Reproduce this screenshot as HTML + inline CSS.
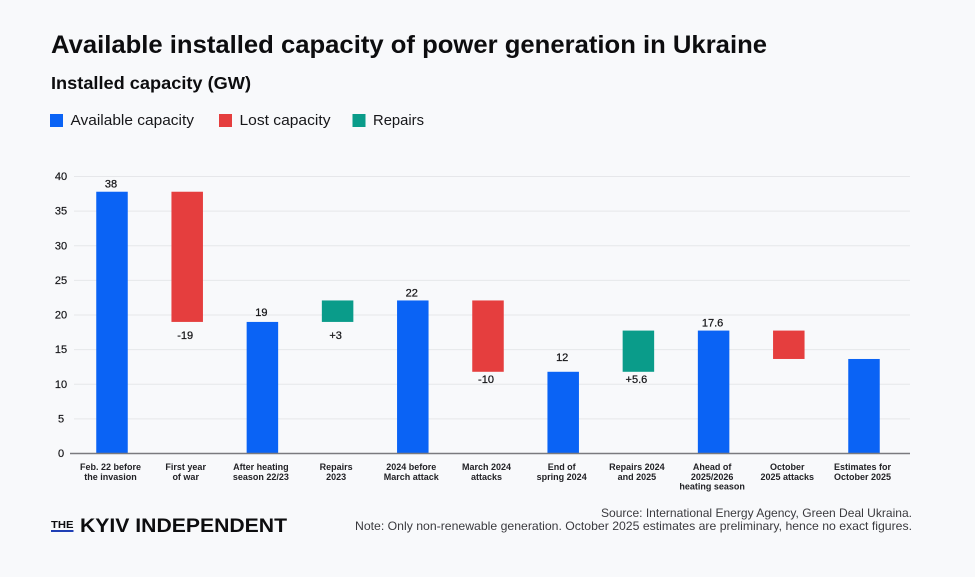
<!DOCTYPE html>
<html lang="en">
<head>
<meta charset="utf-8">
<title>Available installed capacity of power generation in Ukraine</title>
<style>
html,body{margin:0;padding:0;background:#f8f9fb;}
body{width:975px;height:577px;overflow:hidden;}
svg{display:block;font-family:"Liberation Sans",sans-serif;}
</style>
</head>
<body>
<svg id="chart" xmlns="http://www.w3.org/2000/svg" width="975" height="577" viewBox="0 0 975 577">
  <rect width="975" height="577" fill="#f8f9fb"/>
  <text x="51" y="53" font-size="25" font-weight="700" fill="#0d0d0f" textLength="716" lengthAdjust="spacingAndGlyphs">Available installed capacity of power generation in Ukraine</text>
  <text x="51" y="89" font-size="17.5" font-weight="700" fill="#0d0d0f" textLength="200" lengthAdjust="spacingAndGlyphs">Installed capacity (GW)</text>

  <g>
    <rect x="50" y="114" width="13" height="13" fill="#0a63f5"/>
    <text x="70.5" y="125" font-size="14.5" fill="#17171a" textLength="123.5" lengthAdjust="spacingAndGlyphs">Available capacity</text>
    <rect x="219" y="114" width="13" height="13" fill="#e53e3e"/>
    <text x="239.5" y="125" font-size="14.5" fill="#17171a" textLength="91" lengthAdjust="spacingAndGlyphs">Lost capacity</text>
    <rect x="352.500" y="114" width="13" height="13" fill="#0a9c8a"/>
    <text x="373" y="125" font-size="14.5" fill="#17171a" textLength="51" lengthAdjust="spacingAndGlyphs">Repairs</text>
  </g>

  <g id="grid"></g>
  <g id="yticks"></g>
  <g id="bars"></g>
  <g id="values"></g>
  <g id="xlabels"></g>
  <line id="baseline" x1="70" x2="910" stroke="#7a7a7e" stroke-width="1.6"/>

  <g>
    <text x="51" y="528" font-size="10.5" font-weight="700" fill="#0d0d0f" textLength="22.5" lengthAdjust="spacingAndGlyphs">THE</text>
    <rect x="51" y="530" width="22.500" height="2" fill="#1f3fb5"/>
    <text x="80" y="532" font-size="19" font-weight="700" fill="#0d0d0f" textLength="207" lengthAdjust="spacingAndGlyphs">KYIV INDEPENDENT</text>
  </g>

  <text x="912" y="517" text-anchor="end" font-size="12" fill="#3a3a3e" textLength="311" lengthAdjust="spacingAndGlyphs">Source: International Energy Agency, Green Deal Ukraina.</text>
  <text x="912" y="530" text-anchor="end" font-size="12" fill="#3a3a3e" textLength="557" lengthAdjust="spacingAndGlyphs">Note: Only non-renewable generation. October 2025 estimates are preliminary, hence no exact figures.</text>
</svg>

<script>
const categories = [
  ["Feb. 22 before", "the invasion"],
  ["First year", "of war"],
  ["After heating", "season 22/23"],
  ["Repairs", "2023"],
  ["2024 before", "March attack"],
  ["March 2024", "attacks"],
  ["End of", "spring 2024"],
  ["Repairs 2024", "and 2025"],
  ["Ahead of", "2025/2026", "heating season"],
  ["October", "2025 attacks"],
  ["Estimates for", "October 2025"]
];
const barStart = [0, 19, 0, 19, 0, 11.8, 0, 11.8, 0, 13.65, 0];
const barEnd = [37.8, 37.8, 19, 22.1, 22.1, 22.1, 11.8, 17.75, 17.75, 17.75, 13.65];
const barKind = ["available", "lost", "available", "repairs", "available", "lost", "available", "repairs", "available", "lost", "available"];
const valueLabels = ["38", "-19", "19", "+3", "22", "-10", "12", "+5.6", "17.6", "", ""];
const yTickValues = [0, 5, 10, 15, 20, 25, 30, 35, 40];

const NS = "http://www.w3.org/2000/svg";
const kindColor = { available: "#0a63f5", lost: "#e53e3e", repairs: "#0a9c8a" };
const yScale = v => 453.5 - v * 6.925;
const xScale = i => 112 + i * 75.2;
const barWidth = 31.5;

function make(tag, parent, attrs, text) {
  const el = document.createElementNS(NS, tag);
  Object.keys(attrs).forEach(k => el.setAttribute(k, attrs[k]));
  if (text !== undefined) el.textContent = text;
  parent.appendChild(el);
  return el;
}

const gridG = document.getElementById("grid");
const tickG = document.getElementById("yticks");
const barsG = document.getElementById("bars");
const valuesG = document.getElementById("values");
const xLabelsG = document.getElementById("xlabels");
const baseline = document.getElementById("baseline");
baseline.setAttribute("y1", yScale(0));
baseline.setAttribute("y2", yScale(0));

yTickValues.forEach(t => {
  if (t !== 0) {
    const line = make("line", gridG, { x1: 74, x2: 910, y1: yScale(t), y2: yScale(t), stroke: "#e6e7ea", "stroke-width": 1 });
    
    
  }
  const label = make("text", tickG, { x: 61, y: yScale(t) + 3.5, "text-anchor": "middle", "font-size": 11, "font-weight": 400, fill: "#17171a", stroke: "#17171a", "stroke-width": 0.2 }, String(t));
  
  
});

categories.forEach((lines, i) => {
  const cx = xScale(i);
  const top = yScale(Math.max(barStart[i], barEnd[i]));
  const bottom = yScale(Math.min(barStart[i], barEnd[i]));
  const bar = make("rect", barsG, { x: cx - barWidth / 2, y: top, width: barWidth, height: bottom - top, fill: kindColor[barKind[i]] });
  
  

  if (valueLabels[i]) {
    const below = barKind[i] !== "available";
    let vy = below ? bottom + 17 : top - 4;
    if (valueLabels[i] === "19") vy = top - 6;
    if (valueLabels[i] === "12") vy = top - 11;
    if (valueLabels[i] === "-10") vy = bottom + 11;
    if (valueLabels[i] === "+5.6") vy = bottom + 11;
    const value = make("text", valuesG, { x: cx - (below ? 2 : 1), y: vy, "text-anchor": "middle", "font-size": 11, fill: "#17171a", stroke: "#17171a", "stroke-width": 0.25 }, valueLabels[i]);
    
    
  }

  lines.forEach((line, j) => {
    const label = make("text", xLabelsG, { x: cx - 1.5, y: 470 + j * 9.8, "text-anchor": "middle", "font-size": 9, "font-weight": 700, fill: "#222226" }, line);
    
    
  });
});
</script>
</body>
</html>
